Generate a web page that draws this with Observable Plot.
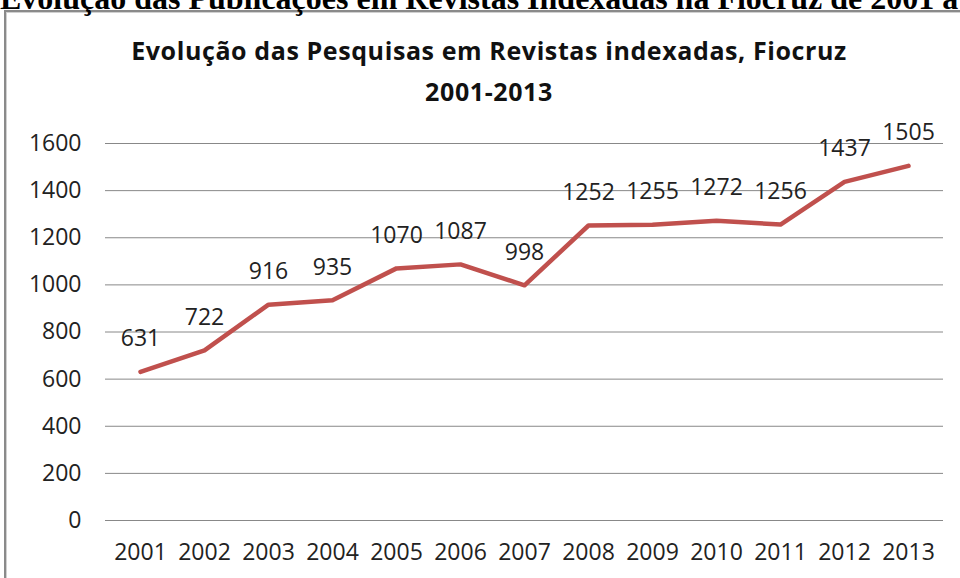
<!DOCTYPE html>
<html><head><meta charset="utf-8">
<script src="https://cdn.jsdelivr.net/npm/d3@7"></script>
<script src="https://cdn.jsdelivr.net/npm/@observablehq/plot@0.6"></script>
<style>
html,body{margin:0;padding:0;background:#fff;width:960px;height:578px;overflow:hidden;}
#wrap{position:relative;width:960px;height:578px;overflow:hidden;}
#hdr{position:absolute;left:0;top:-18px;white-space:nowrap;font-family:"Liberation Serif","Times New Roman",serif;font-weight:bold;font-size:32px;line-height:32px;color:#000;}
#box{position:absolute;left:4px;top:10px;width:1000px;height:700px;border:2px solid #8a8a8a;box-shadow:1px 1px 0 #d0d0d0 inset;background:#fff;}
.t{position:absolute;left:0;width:978px;text-align:center;font-family:"Open Sans",sans-serif;font-weight:bold;font-size:25px;letter-spacing:0.6px;color:#111;white-space:nowrap;}
#chart{position:absolute;left:0;top:0;}
</style></head>
<body><div id="wrap">
<div id="box"></div>
<div id="hdr">Evolução das Publicações em Revistas Indexadas na Fiocruz de 2001 a 2013</div>
<div id="chart"></div>
<div class="t" id="t1" style="top:33px;">Evolução das Pesquisas em Revistas indexadas, Fiocruz</div>
<div class="t" id="t2" style="top:74px;">2001-2013</div>
</div>
<script>
const years = ["2001","2002","2003","2004","2005","2006","2007","2008","2009","2010","2011","2012","2013"];
const values = [631,722,916,935,1070,1087,998,1252,1255,1272,1256,1437,1505];
const yTicks = [0,200,400,600,800,1000,1200,1400,1600];

const data = years.map((y,i)=>({year:y, value:values[i]}));

const chart = Plot.plot({
  width:960, height:578,
  marginLeft:105, marginRight:17, marginTop:143, marginBottom:58,
  style:{fontFamily:"Open Sans, sans-serif", fontSize:"23px", color:"#222", background:"transparent"},
  x:{type:"point", domain:years, padding:0.5, label:null},
  y:{domain:[0,1600], ticks:yTicks, label:null},
  marks:[
    Plot.gridY(yTicks,{stroke:"#888", strokeOpacity:1, strokeWidth:1}),
    Plot.axisY({ticks:yTicks, tickFormat:d=>String(d), tickSize:0, tickPadding:24, label:null, fontSize:23}),
    Plot.axisX({tickSize:0, tickPadding:23, label:null, fontSize:23}),
    Plot.line(data,{x:"year", y:"value", stroke:"#C0504D", strokeWidth:4.5, strokeLinejoin:"round"}),
    Plot.text(data,{x:"year", y:"value", text:d=>String(d.value), dy:-33, fontSize:23, fill:"#222"})
  ]
});
document.getElementById("chart").appendChild(chart);
</script>
</body></html>
